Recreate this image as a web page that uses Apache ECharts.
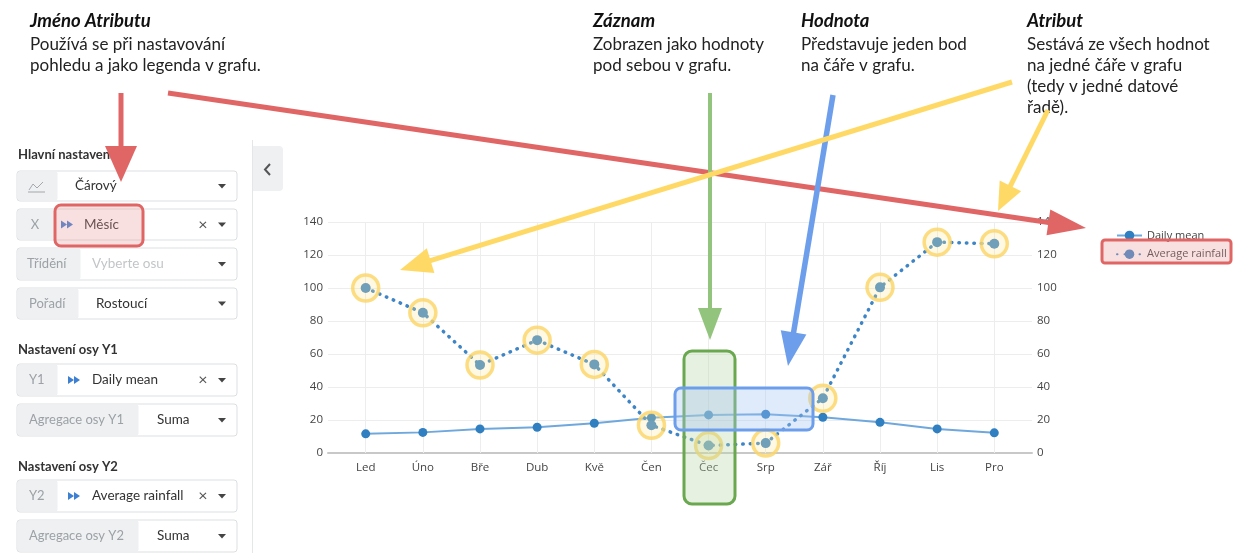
<!DOCTYPE html>
<html><head><meta charset="utf-8">
<script src="https://cdn.jsdelivr.net/npm/echarts@6/dist/echarts.min.js"></script>
<style>html,body{margin:0;padding:0;background:#fff}#c{width:1233px;height:553px}</style>
</head><body><div id="c"></div>
<script>
// ---- data ----
const months = ['Led','Úno','Bře','Dub','Kvě','Čen','Čec','Srp','Zář','Říj','Lis','Pro'];
const dailyMean = [11.6,12.5,14.6,15.6,18.0,21.4,23.1,23.5,21.7,18.6,14.6,12.2];
const averageRainfall = [100,85,53.3,68.4,53.7,16.8,4.5,6.0,33.2,100.4,127.8,126.8];
const seriesNames = ['Daily mean','Average rainfall'];
const yMin = 0, yMax = 140, yStep = 20;

// ---- helpers for annotation graphics ----
const LATO = 'Lato';
function txt(x,y,text,o){o=o||{};return {type:'text',x:x,y:y,z:o.z||120,silent:true,style:{text:text,fontFamily:LATO,fontSize:o.size||17,fontWeight:o.weight||'normal',fontStyle:o.style||'normal',fill:o.fill||'#222',verticalAlign:'middle',align:o.align||'left'}};}
function rect(x,y,w,h,o){o=o||{};return {type:'rect',z:o.z||100,silent:true,shape:{x:x,y:y,width:w,height:h,r:o.r||0},style:{fill:o.fill||'none',stroke:o.stroke||null,lineWidth:o.lw||0}};}
function line(x1,y1,x2,y2,color,w,z){return {type:'line',z:z||100,silent:true,shape:{x1:x1,y1:y1,x2:x2,y2:y2},style:{stroke:color,lineWidth:w}};}
function arrow(x1,y1,x2,y2,color,w,hl,hw){
  const dx=x2-x1,dy=y2-y1,L=Math.hypot(dx,dy),ux=dx/L,uy=dy/L;
  const bx=x2-ux*hl,by=y2-uy*hl,px=-uy,py=ux;
  return [line(x1,y1,bx+ux*2,by+uy*2,color,w,130),
    {type:'polygon',z:130,silent:true,shape:{points:[[x2,y2],[bx+px*hw/2,by+py*hw/2],[bx-px*hw/2,by-py*hw/2]]},style:{fill:color}}];
}
function caret(cy){return {type:'polygon',z:105,silent:true,shape:{points:[[218,cy-2],[226,cy-2],[222,cy+2.5]]},style:{fill:'#444'}};}
function dbl(x,cy){return [
  {type:'polygon',z:105,silent:true,shape:{points:[[x,cy-4],[x+6,cy],[x,cy+4]]},style:{fill:'#3d7fd1'}},
  {type:'polygon',z:105,silent:true,shape:{points:[[x+6,cy-4],[x+12,cy],[x+6,cy+4]]},style:{fill:'#3d7fd1'}}];}
function field(y,h,pw,prefix,value,o){
  o=o||{};const cy=y+h/2;const els=[];
  els.push(rect(17,y,220,h,{fill:'#fff',stroke:'#dcdfe2',lw:1,r:3,z:101}));
  els.push(rect(17.5,y+0.5,pw,h-1,{fill:'#eef0f2',r:2,z:102}));
  if(prefix) els.push(txt(o.px||(17+pw/2),cy,prefix,{size:13,fill:'#9da1a6',align:o.px?'left':'center',z:103}));
  if(o.icon) els.push.apply(els,dbl(o.icon,cy));
  if(value) els.push(txt(o.vx,cy,value,{size:13.5,fill:o.vfill||'#333',z:103}));
  if(o.clear) els.push(txt(203,cy,'×',{size:16,fill:'#555',align:'center',z:103}));
  els.push(caret(cy));
  return els;
}

const G = [];
// side panel
G.push(line(252.5,140,252.5,553,'#e4e6e8',1,100));
G.push({type:'rect',z:100,silent:true,shape:{x:253,y:146,width:30,height:45,r:[0,4,4,0]},style:{fill:'#eef0f2'}});
G.push({type:'polyline',z:101,silent:true,shape:{points:[[270,164],[265,169.5],[270,175]]},style:{stroke:'#555',lineWidth:2,fill:null}});
G.push(txt(18,155,'Hlavní nastavení',{size:13,weight:'bold',fill:'#333'}));
G.push.apply(G,field(171,30,40,null,'Čárový',{vx:75}));
G.push({type:'polyline',z:104,silent:true,shape:{points:[[29,190],[33,184],[37,188],[43,182]]},style:{stroke:'#a4a8ac',lineWidth:1,fill:null}});
G.push(line(28,192,45,192,'#a4a8ac',1,104));
G.push.apply(G,field(209,31,36,'X','Měsíc',{vx:84,icon:61,clear:true}));
G.push.apply(G,field(248,32,63,'Třídění','Vyberte osu',{px:27,vx:92,vfill:'#c2c5c8'}));
G.push.apply(G,field(288,31,61,'Pořadí','Rostoucí',{px:29,vx:96}));
G.push(txt(18,350,'Nastavení osy Y1',{size:13,weight:'bold',fill:'#333'}));
G.push.apply(G,field(364,32,40,'Y1','Daily mean',{px:29,vx:92,icon:68,clear:true}));
G.push.apply(G,field(404,32,121,'Agregace osy Y1','Suma',{px:29,vx:157}));
G.push(txt(18,467,'Nastavení osy Y2',{size:13,weight:'bold',fill:'#333'}));
G.push.apply(G,field(480,32,40,'Y2','Average rainfall',{px:29,vx:92,icon:68,clear:true}));
G.push.apply(G,field(520,32,121,'Agregace osy Y2','Suma',{px:29,vx:157}));

// annotation texts
const H = {size:18.5,weight:'bold',style:'italic',fill:'#111'};
G.push(txt(30,21,'Jméno Atributu',H));
G.push(txt(30,45,'Používá se při nastavování'));
G.push(txt(30,66,'pohledu a jako legenda v grafu.'));
G.push(txt(593,21,'Záznam',H));
G.push(txt(593,45,'Zobrazen jako hodnoty'));
G.push(txt(593,66,'pod sebou v grafu.'));
G.push(txt(801,21,'Hodnota',H));
G.push(txt(801,45,'Představuje jeden bod'));
G.push(txt(801,66,'na čáře v grafu.'));
G.push(txt(1027,21,'Atribut',H));
G.push(txt(1027,45,'Sestává ze všech hodnot'));
G.push(txt(1027,66,'na jedné čáře v grafu'));
G.push(txt(1027,87,'(tedy v jedné datové'));
G.push(txt(1027,108,'řadě).'));

// highlight boxes
G.push(rect(55,205,88,41,{fill:'rgba(234,153,153,0.3)',stroke:'#e06666',lw:3,r:6,z:110}));
G.push(rect(1102,240,129,23,{fill:'rgba(234,153,153,0.3)',stroke:'#e06666',lw:3,r:3,z:110}));
G.push(rect(684,351,51,153,{fill:'rgba(182,215,168,0.35)',stroke:'#6aa84f',lw:3,r:8,z:110}));
G.push(rect(675,388,138,42,{fill:'rgba(164,194,244,0.35)',stroke:'#6d9eeb',lw:3,r:6,z:111}));

// arrows
G.push.apply(G,arrow(121,93,121,182,'#e06666',5,36,32));
G.push.apply(G,arrow(168,93,1086,228,'#e06666',5,38,26));
G.push.apply(G,arrow(710,93,710,340,'#93c47d',4,32,24));
G.push.apply(G,arrow(833,95,788,366,'#6d9eeb',5.5,34,26));
G.push.apply(G,arrow(1012,82,400,270,'#ffd966',5,32,26));
G.push.apply(G,arrow(1048,110,998,211,'#ffd966',5,28,24));

const chart = echarts.init(document.getElementById('c'));
const labelStyle = {color:'#444',fontSize:11.5,fontFamily:'Open Sans'};
chart.setOption({
  animation:false,
  backgroundColor:'#fff',
  grid:{left:328,right:1233-1032,top:222,bottom:553-453},
  legend:{data:seriesNames,orient:'vertical',left:1111,top:224.5,itemWidth:25,itemHeight:12,itemGap:6.7,
    textStyle:{fontSize:11,color:'#444',fontFamily:'Open Sans',lineHeight:12}},
  xAxis:{type:'value',min:-0.66,max:11.66,
    axisLine:{show:true,onZero:false,lineStyle:{color:'#c8c8c8',width:2}},
    axisTick:{show:false},splitLine:{show:false},
    axisLabel:Object.assign({customValues:months.map((m,i)=>i),formatter:v=>months[Math.round(v)]||'',margin:9},labelStyle)},
  yAxis:[
    {type:'value',min:yMin,max:yMax,interval:yStep,position:'left',axisLine:{show:false},axisTick:{show:false},
      axisLabel:Object.assign({margin:5},labelStyle),splitLine:{lineStyle:{color:'#ededed',width:1}}},
    {type:'value',min:yMin,max:yMax,interval:yStep,position:'right',axisLine:{show:false},axisTick:{show:false},
      axisLabel:Object.assign({margin:5},labelStyle),splitLine:{show:false}}
  ],
  series:[
    {name:'_vgrid',type:'line',data:[],z:1,silent:true,
      markLine:{silent:true,z:1,symbol:'none',label:{show:false},lineStyle:{color:'#ededed',width:1,type:'solid'},
        data:months.map((m,i)=>({xAxis:i}))}},
    {name:seriesNames[0],type:'line',yAxisIndex:0,z:3,data:dailyMean.map((v,i)=>[i,v]),
      symbol:'circle',symbolSize:9,showAllSymbol:true,
      lineStyle:{color:'#6fa8dc',width:2},itemStyle:{color:'#2f7fc1'}},
    {name:seriesNames[1],type:'line',yAxisIndex:1,z:3,data:averageRainfall.map((v,i)=>[i,v]),
      symbol:'circle',symbolSize:10,showAllSymbol:true,
      lineStyle:{color:'#3d85c6',width:3.5,type:[0.5,7],cap:'round'},itemStyle:{color:'#3d85c6'}},
    {name:'_highlight',type:'scatter',yAxisIndex:1,z:4,silent:true,data:averageRainfall.map((v,i)=>[i,v]),
      symbol:'circle',symbolSize:26,
      itemStyle:{color:'rgba(255,232,150,0.33)',borderColor:'#fbd464',borderWidth:3.5}}
  ],
  graphic:{elements:G}
});
</script></body></html>
